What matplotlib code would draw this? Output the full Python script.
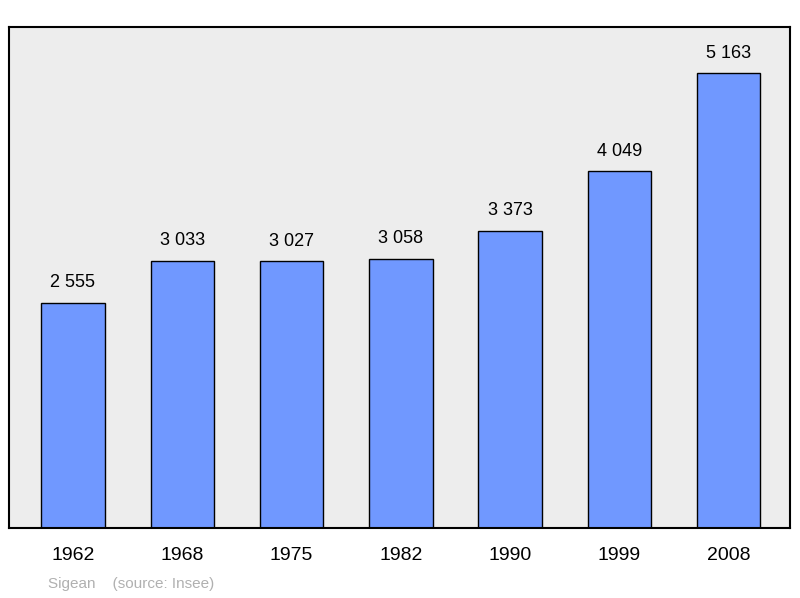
import matplotlib
matplotlib.use("Agg")
import matplotlib.pyplot as plt

years = ["1962", "1968", "1975", "1982", "1990", "1999", "2008"]
population = [2555, 3033, 3027, 3058, 3373, 4049, 5163]
labels = ["2 555", "3 033", "3 027", "3 058", "3 373", "4 049", "5 163"]

plt.rcParams['font.family'] = ['Liberation Sans', 'DejaVu Sans']
fig = plt.figure(figsize=(8, 5.98), dpi=100)
ax = fig.add_axes([9/800, 1-528/598, 781/800, 501/598])
ax.set_facecolor('#ededed')
x = list(range(len(years)))
ax.bar(x, population, width=0.58, color='#7098ff', edgecolor='black', linewidth=1)
for xi, v, l in zip(x, population, labels):
    ax.text(xi, v + 130, l, ha='center', va='bottom', fontsize=13)
ax.set_xlim(-0.585, 6.56)
ax.set_ylim(0, 5685)
ax.set_yticks([])
ax.set_xticks(x)
ax.set_xticklabels(years, fontsize=14)
ax.tick_params(axis='x', length=0, pad=14)
for s in ax.spines.values():
    s.set_linewidth(1.5)
fig.text(48/800, 1-584/598, "Sigean    (source: Insee)", fontsize=11, color='#b0b0b0', va='center')
fig.savefig("out.png", dpi=100)
